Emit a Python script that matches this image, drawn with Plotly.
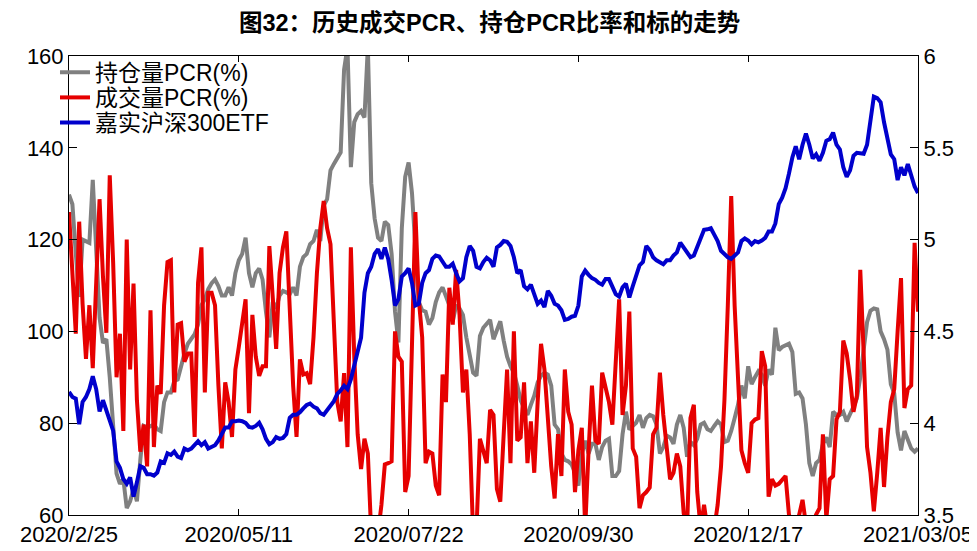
import plotly.graph_objects as go

# ---- data ----
tick_labels = ["2020/2/25", "2020/05/11", "2020/07/22", "2020/09/30", "2020/12/17", "2021/03/05"]
tick_day_index = [0, 50, 100, 150, 200, 250]

oi_pcr = [  # 持仓量PCR(%)
    129.8, 127.7, 117, 107.5, 120, 119.7, 119.3, 133, 117, 103,
    97.5, 98.3, 90, 80, 69, 66.8, 67.8, 61.5, 63, 65.7,
    63, 72, 79.4, 79, 79.4, 79.7, 78.7, 78.3, 84.6, 86.7,
    86.7, 89.2, 89.5, 92.4, 95.2, 97.3, 98.3, 99.4, 101.5, 105.7,
    107, 109.2, 110.5, 111.3, 109.9, 107.8, 107.8, 109.6, 107.8, 112.7,
    115.5, 116.9, 120.4, 112.7, 109.6, 112.7, 113.7, 111.3, 104.3, 98.7,
    106.4, 105, 107.8, 108.8, 108.5, 108.1, 109.6, 107.8, 114.1, 116.2,
    116.9, 119, 119.7, 122.1, 119.7, 127.4, 128.8, 135.1, 136.5, 137.9,
    139, 157, 162, 135.8, 145.6, 147.3, 148, 146.6, 162, 132.3,
    124.6, 120.4, 119.7, 123.9, 123.2, 116.9, 104.3, 97.6, 122.5, 133.7,
    136.8, 130.1, 119.7, 106.4, 104.6, 104.3, 101.5, 102.9, 106.4, 108.5,
    109.6, 107.8, 105.7, 102.2, 105.7, 105, 103.6, 98.7, 94.5, 91,
    90.3, 99, 100.8, 101.8, 102.5, 98.3, 100, 102.2, 98, 94.5,
    92.4, 91, 88.2, 85, 83.3, 81.8, 84, 86, 88.9, 90.3,
    91, 90.6, 88.2, 79.7, 78.7, 73.4, 72, 71.7, 71, 69.2,
    66.4, 73.4, 76.2, 73.4, 75.5, 75.5, 72, 74.8, 76.2, 76.6,
    68.5, 68.5, 69.6, 77.6, 82.5, 78.6, 79.4, 80.1, 81.8, 79,
    81.1, 81.8, 81.5, 79.7, 73.4, 74.8, 77.3, 76.9, 75.5, 79.7,
    81.8, 79, 72.7, 75.9, 75.2, 76.6, 79.7, 80.1, 78.7, 78.3,
    79.4, 80.4, 79.7, 75.9, 76.2, 78.3, 81.1, 84, 88.2, 85.4,
    92.4, 88.5, 90, 91.3, 90.6, 88.2, 91.7, 90.6, 100.8, 95.9,
    96.6, 96.9, 97.3, 95.5, 86.4, 86.7, 85.4, 79.7, 71.3, 68.5,
    71.3, 72, 75.5, 76.9, 74.8, 82.5, 81.8, 81.8, 82.5, 80.4,
    81.8, 83.6, 85.4, 90, 96, 102, 104.5, 105, 104.8, 100,
    98.3, 96, 88.5, 86.5, 78, 74.1, 78.3, 76.2, 74.5, 73.8,
    74.5,
]

vol_pcr = [  # 成交量PCR(%)
    126, 112, 99.5, 123.9, 106, 94, 105.7, 92, 110, 128.8,
    112, 99.7, 134, 115, 90, 99.5, 78.3, 120, 91.7, 110.4,
    85, 73.8, 79.7, 70.6, 104.6, 74.8, 88.2, 86.4, 105.7, 115.1,
    115.5, 86.7, 101.5, 101.8, 93.4, 95.2, 95.2, 77, 110.6, 118.3,
    86.7, 108.4, 108.4, 105.7, 88.2, 74.5, 88.9, 84.6, 77, 91.7,
    96.6, 102.2, 107, 82.2, 103.6, 94.5, 90.3, 92.4, 92.4, 118.6,
    105.7, 96.2, 112.7, 118.3, 121.8, 102.2, 88.2, 77, 93.9, 90.6,
    90.9, 88.5, 98.7, 112.7, 122.5, 128.4, 122.5, 119, 102.2, 84.6,
    80.4, 90.9, 74.8, 118.3, 94.5, 77.6, 70, 76.6, 73.4, 56,
    54, 56, 62.2, 71, 71.3, 71.7, 100, 94.5, 93.4, 65,
    68.5, 98.7, 126, 107, 98.7, 71.3, 73.8, 73.4, 66.4, 64.3,
    90.6, 84.6, 109.5, 101.5, 113.4, 103.6, 86.7, 91.7, 77.6, 56,
    57, 76.6, 73.5, 71.3, 82.9, 81.8, 65.7, 62.9, 77.6, 91.7,
    71.3, 100, 76.2, 76.9, 88.9, 71.3, 80.4, 69.2, 84.6, 97.3,
    91.7, 79.7, 70.6, 63.6, 77.6, 68.5, 91.7, 82.5, 79.7, 65,
    74.1, 79, 57, 74.1, 88.2, 76.2, 75.5, 91, 88.2, 84.6,
    79.7, 91.7, 107, 81.8, 88.2, 104.3, 74.5, 72.7, 61.5, 64.3,
    65, 66, 77.6, 79, 91, 81.8, 75.5, 67.8, 69.2, 73.4,
    70.6, 60.4, 57, 81.1, 84, 65, 57, 62.2, 57, 56,
    57, 62.2, 70.6, 85, 105.7, 129.5, 105.7, 87.4, 74.1, 71.3,
    69.2, 80, 80.8, 81.1, 95.7, 92.4, 64, 67.8, 66.4, 66.8,
    67.8, 68.5, 60.1, 58, 58, 60, 63.3, 58, 57, 58,
    60.1, 61.5, 77.6, 59, 67.8, 68.5, 80.8, 82.5, 98, 95.2,
    89.6, 82.5, 86, 113.4, 95.2, 74.8, 69.2, 60.8, 69.2, 79,
    66.1, 77, 84.6, 87.4, 100, 111.6, 83.3, 87.4, 88.2, 119.3,
    104.3,
]

etf_300 = [  # 嘉实沪深300ETF
    4.170, 4.143, 4.134, 3.994, 4.116, 4.143, 4.186, 4.256, 4.186, 4.064,
    4.125, 4.072, 4.011, 3.959, 3.792, 3.757, 3.696, 3.670, 3.705, 3.600,
    3.678, 3.766, 3.757, 3.722, 3.722, 3.714, 3.731, 3.792, 3.784, 3.836,
    3.827, 3.845, 3.818, 3.810, 3.862, 3.853, 3.862, 3.880, 3.902, 3.880,
    3.897, 3.862, 3.871, 3.880, 3.906, 3.941, 3.976, 3.976, 4.011, 4.011,
    4.014, 4.011, 4.002, 3.980, 3.976, 3.985, 4.002, 3.967, 3.915, 3.885,
    3.897, 3.924, 3.915, 3.920, 3.941, 4.029, 4.046, 4.046, 4.060, 4.081,
    4.099, 4.107, 4.090, 4.081, 4.055, 4.046, 4.072, 4.090, 4.120, 4.160,
    4.178, 4.204, 4.186, 4.239, 4.318, 4.379, 4.466, 4.711, 4.817, 4.852,
    4.922, 4.948, 4.895, 4.957, 4.895, 4.781, 4.641, 4.676, 4.799, 4.817,
    4.843, 4.764, 4.641, 4.650, 4.764, 4.817, 4.834, 4.895, 4.913, 4.908,
    4.878, 4.852, 4.852, 4.869, 4.817, 4.773, 4.790, 4.904, 4.965, 4.939,
    4.852, 4.843, 4.878, 4.901, 4.887, 4.852, 4.957, 4.971, 4.992, 4.988,
    4.965, 4.904, 4.817, 4.834, 4.746, 4.729, 4.755, 4.694, 4.650, 4.668,
    4.633, 4.720, 4.694, 4.650, 4.641, 4.615, 4.563, 4.568, 4.580, 4.585,
    4.641, 4.799, 4.831, 4.808, 4.790, 4.781, 4.764, 4.755, 4.785, 4.785,
    4.746, 4.703, 4.690, 4.740, 4.760, 4.685, 4.746, 4.808, 4.860, 4.878,
    4.965, 4.943, 4.904, 4.887, 4.878, 4.866, 4.887, 4.887, 4.913, 4.930,
    4.983, 4.957, 4.922, 4.904, 4.913, 4.960, 5.018, 5.053, 5.056, 5.062,
    5.027, 4.992, 4.939, 4.922, 4.904, 4.895, 4.913, 4.930, 4.992, 5.006,
    4.995, 4.974, 4.992, 4.985, 4.995, 5.009, 5.044, 5.044, 5.088, 5.193,
    5.228, 5.280, 5.359, 5.447, 5.508, 5.438, 5.517, 5.578, 5.517, 5.442,
    5.464, 5.429, 5.473, 5.538, 5.547, 5.583, 5.517, 5.491, 5.394, 5.342,
    5.377, 5.456, 5.473, 5.468, 5.468, 5.517, 5.648, 5.779, 5.771, 5.748,
    5.639, 5.561, 5.464, 5.438, 5.324, 5.394, 5.350, 5.412, 5.342, 5.289,
    5.254,
]

day_index = list(range(len(oi_pcr)))

FONT = "Liberation Sans, Arial, Noto Sans CJK SC, sans-serif"
LEG_FONT = dict(size=23, family=FONT, color="black")

fig = go.Figure()
fig.add_trace(go.Scatter(x=day_index, y=oi_pcr, name="持仓量PCR(%)", mode="lines",
                         line=dict(color="#808080", width=4), yaxis="y", legend="legend"))
fig.add_trace(go.Scatter(x=day_index, y=vol_pcr, name="成交量PCR(%)", mode="lines",
                         line=dict(color="#E60000", width=4), yaxis="y", legend="legend2"))
fig.add_trace(go.Scatter(x=day_index, y=etf_300, name="嘉实沪深300ETF", mode="lines",
                         line=dict(color="#0000CC", width=4), yaxis="y2", legend="legend3"))

leg_common = dict(x=-0.0165, xanchor="left", yanchor="middle", bgcolor="rgba(0,0,0,0)",
                  font=LEG_FONT, itemwidth=30, borderwidth=0)

fig.update_layout(
    width=977, height=551,
    margin=dict(l=61, r=59, t=48, b=27),
    paper_bgcolor="white", plot_bgcolor="white",
    font=dict(family=FONT, size=22, color="black"),
    title=dict(text="<b>图32：历史成交PCR、持仓PCR比率和标的走势</b>",
               x=0.493, xanchor="center", y=0.974, yanchor="middle", yref="container",
               font=dict(family="Liberation Sans, Noto Sans CJK SC, sans-serif", size=23.5, color="black")),
    showlegend=True,
    legend=dict(y=0.9645, **leg_common),
    legend2=dict(y=0.9097, **leg_common),
    legend3=dict(y=0.855, **leg_common),
    xaxis=dict(range=[0, 250], tickmode="array", tickvals=tick_day_index, ticktext=tick_labels,
               ticks="inside", ticklen=6, tickcolor="black", showline=True, linecolor="black",
               linewidth=1, mirror="ticks", showgrid=False, zeroline=False,
               tickfont=dict(size=22)),
    yaxis=dict(range=[60, 160], dtick=20, ticks="inside", ticklen=8, tickcolor="black",
               showline=True, linecolor="black", linewidth=1, showgrid=False, zeroline=False,
               tickfont=dict(size=22)),
    yaxis2=dict(range=[3.5, 6], dtick=0.5, overlaying="y", side="right", ticks="inside",
                ticklen=8, tickcolor="black", showline=True, linecolor="black", linewidth=1,
                showgrid=False, zeroline=False, tickfont=dict(size=22)),
)

fig.write_html("out.html")
